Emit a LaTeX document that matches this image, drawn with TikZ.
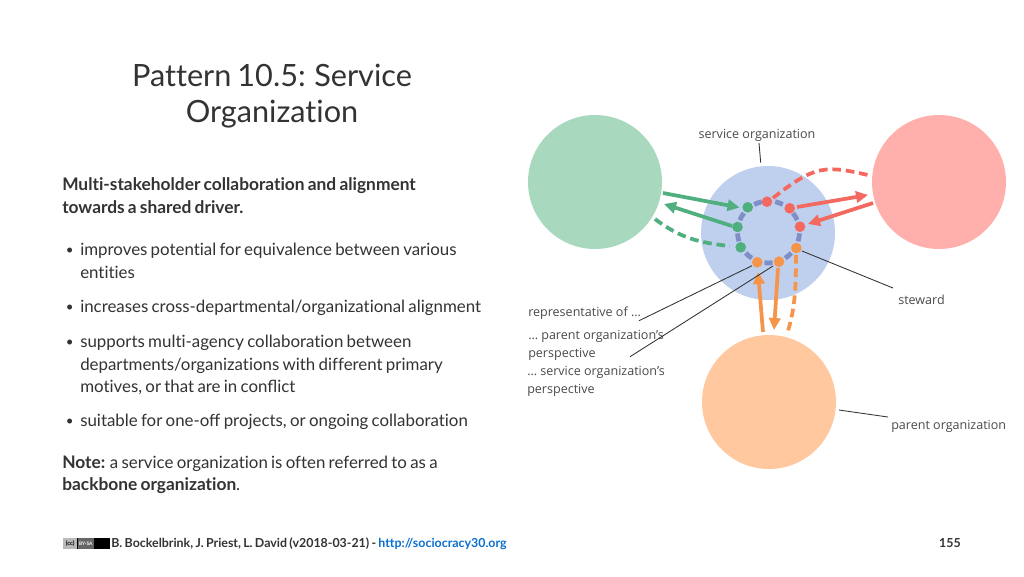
\documentclass[tikz,border=0pt]{standalone}
\usepackage{fontspec}
\setmainfont{Lato}[Ligatures=NoCommon,WordSpace=0.76]
\newfontfamily\lab{Open Sans}[Scale=1]
\usetikzlibrary{arrows.meta}
\definecolor{tx}{HTML}{333333}
\definecolor{lb}{HTML}{4A4A4A}
\definecolor{gbig}{HTML}{A8D9BF}
\definecolor{rbig}{HTML}{FFB0AC}
\definecolor{bbig}{HTML}{BFD0EE}
\definecolor{obig}{HTML}{FFC89F}
\definecolor{gd}{HTML}{4FAF7F}
\definecolor{rd}{HTML}{F4695F}
\definecolor{od}{HTML}{F6954A}
\definecolor{ring}{HTML}{7F8FC6}
\definecolor{lnk}{HTML}{0B6FD0}
\newcommand{\withlig}[1]{{\addfontfeatures{Ligatures=Common}#1}}
\newcommand{\boldbit}[1]{{\fontsize{13}{15}\selectfont\bfseries #1}}
\tikzset{
 x=0.75pt,y=-0.75pt,
 big/.style={circle,minimum size=100.5pt,inner sep=0pt,fill=#1},
 dot/.style={circle,minimum size=8pt,inner sep=0pt,fill=#1},
 txt/.style={anchor=base west,inner sep=0pt,text=tx,font=\fontsize{12.65}{15}\selectfont},
 hd/.style={txt,font=\fontsize{13}{15}\selectfont\bfseries},
 bul/.style={anchor=base west,inner sep=0pt,text=tx,font=\fontsize{10}{12}\selectfont},
 ttl/.style={anchor=base,inner sep=0pt,text=tx,font=\fontsize{23}{27}\selectfont},
 lbl/.style={anchor=base west,inner sep=0pt,text=lb,font=\lab\fontsize{9.4}{12}\selectfont},
 ft/.style={anchor=base west,inner sep=0pt,text=tx,font=\fontsize{9.3}{11}\selectfont\bfseries},
 lead/.style={draw=tx,line width=0.65pt},
 sarr/.style={line width=2.8pt,-{Triangle[length=9pt,width=8.5pt]},shorten >=0pt},
 darr/.style={line width=2.8pt,dash pattern=on 6.5pt off 3.6pt},
}
\begin{document}
\begin{tikzpicture}
\useasboundingbox (0,0) rectangle (1024,576);
\fill[white] (0,0) rectangle (1024,576);
% title
\node[ttl] (t1) at (272,86) {Pattern 10.5: Service};
\node[ttl] (t2) at (272,122) {Organization};
% body
\node[hd] (h1) at (62,190) {Multi-stakeholder collaboration and alignment};
\node[hd] (h2) at (62,213) {towards a shared driver.};
\foreach \n/\y in {b1/254,b2/311,b3/346,b4/425}{\node[bul] (\n) at (65.5,\y) {•};}
\node[txt] (l1) at (80,255) {improves potential for equivalence between various};
\node[txt] (l2) at (80,278) {entities};
\node[txt] (l3) at (80,312) {increases cross-departmental/organizational alignment};
\node[txt] (l4) at (80,347.5) {supports multi-agency collaboration between};
\node[txt] (l5) at (80,370) {departments/organizations with different primary};
\node[txt] (l6) at (80,392) {motives, or that are in \withlig{conflict}};
\node[txt] (l7) at (80,426) {suitable for \withlig{one-off} projects, or ongoing collaboration};
\node[txt] (n1) at (62,468) {\boldbit{Note:} a service organization is often referred to as a};
\node[txt] (n2) at (62,490) {\boldbit{backbone organization}.};
% footer
\node[fill=black,minimum width=35.2pt,minimum height=8.2pt,inner sep=0pt] (cc) at (86.5,543.5) {};
\node[fill=gray!55,minimum width=10.5pt,minimum height=8.2pt,inner sep=0pt,anchor=west,font=\fontsize{4.5}{5}\selectfont\bfseries] (ccl) at (63,543.5) {(cc)};
\node[fill=gray!80!black,minimum width=12pt,minimum height=8.2pt,inner sep=0pt,text=white,anchor=west,font=\fontsize{3.6}{4}\selectfont\bfseries] (ccb) at (ccl.east) {BY-SA};
\node[ft] (f1) at (111,547.5) {B. Bockelbrink, J. Priest, L. David (v2018-03-21) - \textcolor{lnk}{http://sociocracy30.org}};
\node[ft,anchor=base] (f2) at (950,547.5) {155};
% big circles
\node[big=gbig] (G) at (595,182) {};
\node[big=rbig] (R) at (939,182) {};
\node[big=bbig] (B) at (768,233) {};
\node[big=obig] (O) at (769,402) {};
% ring: one dash between each pair of neighbouring dots
\coordinate (rc) at (768.5,232);
\foreach \a [evaluate=\a as \t using {\a-7.5}] in {-70,-30,10,50,90,130,170,210,250}{
  \draw[ring,line width=3.6pt] ([shift={(\t:31)}]rc) arc[start angle=\t,delta angle=15,radius=31];
}
% dots
\node[dot=gd] (g1) at (747.7,207.3) {};
\node[dot=gd] (g2) at (737.5,227) {};
\node[dot=gd] (g3) at (740.7,247.3) {};
\node[dot=rd] (r1) at (767,201.7) {};
\node[dot=rd] (r2) at (789.7,208.3) {};
\node[dot=rd] (r3) at (800,226.7) {};
\node[dot=od] (o1) at (796.3,248) {};
\node[dot=od] (o2) at (779,261.7) {};
\node[dot=od] (o3) at (757.3,262.3) {};
% free ends
\coordinate (ga1) at (663,193); \coordinate (ga2) at (739.5,207.5);
\coordinate (ga3) at (732,226); \coordinate (ga4) at (664,204);
\coordinate (gd1) at (655,219); \coordinate (gd2) at (730,246);
\coordinate (rd1) at (773,198); \coordinate (rd2) at (870,175.5);
\coordinate (ra1) at (797,207); \coordinate (ra2) at (868,195);
\coordinate (ra3) at (873,203); \coordinate (ra4) at (808,224);
\coordinate (oa1) at (763,332); \coordinate (oa2) at (758,272);
\coordinate (oa3) at (778,268); \coordinate (oa4) at (774,330);
\coordinate (od1) at (796,255); \coordinate (od2) at (787,334);
% arrows
\draw[sarr,gd] (ga1) -- (ga2);
\draw[sarr,gd] (ga3) -- (ga4);
\draw[darr,gd] (gd1) .. controls (680,238) and (700,243) .. (gd2);
\draw[darr,rd] (rd1) .. controls (815,165) and (825,165) .. (rd2);
\draw[sarr,rd] (ra1) -- (ra2);
\draw[sarr,rd] (ra3) -- (ra4);
\draw[sarr,od] (oa1) -- (oa2);
\draw[sarr,od] (oa3) -- (oa4);
\draw[darr,od] (od1) .. controls (796,295) and (794,312) .. (od2);
% labels
\node[lbl,anchor=base] (ls) at (757,138) {service organization};
\node[lbl] (lst) at (898,304) {steward};
\node[lbl] (lpo) at (891,429.5) {parent organization};
\node[lbl] (lr) at (528,316.5) {representative of \dots};
\node[lbl] (lp1) at (528,339) {\dots\ parent organization’s};
\node[lbl] (lp2) at (528,357) {perspective};
\node[lbl] (ls1) at (527,375) {\dots\ service organization’s};
\node[lbl] (ls2) at (527,393) {perspective};
% leaders
\coordinate (e1) at (759,143); \coordinate (e2) at (760.7,162.7);
\coordinate (e3) at (802,251); \coordinate (e4) at (893,288);
\coordinate (e5) at (752,265.7); \coordinate (e6) at (639,320.7);
\coordinate (e7) at (773,266); \coordinate (e8) at (630,356.7);
\coordinate (e9) at (839,410); \coordinate (e10) at (888,417);
\draw[lead] (e1) -- (e2);
\draw[lead] (e3) -- (e4);
\draw[lead] (e5) -- (e6);
\draw[lead] (e7) -- (e8);
\draw[lead] (e9) -- (e10);
\end{tikzpicture}
\end{document}
